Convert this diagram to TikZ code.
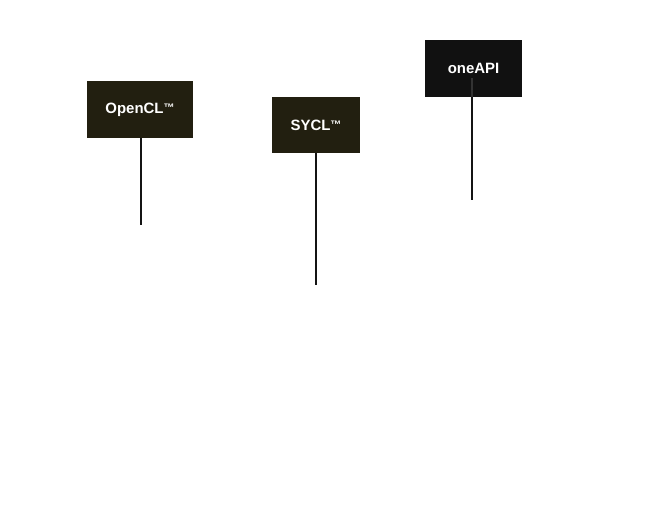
\documentclass[tikz,border=0pt]{standalone}
\usepackage{fontspec}
\setmainfont{Liberation Sans}
\definecolor{olivebox}{HTML}{221F10}
\definecolor{blackbox}{HTML}{111111}
\definecolor{stem}{HTML}{141414}
\begin{document}
\begin{tikzpicture}[x=1bp,y=-1bp,
  label box/.style={rectangle, inner sep=0pt, text=white,
    font=\fontsize{15}{17}\selectfont\bfseries},
  stem line/.style={draw=stem, line width=2bp}]
\useasboundingbox[fill=white] (0,0) rectangle (645,520);
\node[label box, fill=olivebox, minimum width=106bp, minimum height=57bp] (opencl) at (140,109.5) {OpenCL{\fontsize{11}{12}\selectfont\raisebox{2bp}{™}}};
\node[label box, fill=olivebox, minimum width=88bp, minimum height=56bp] (sycl) at (316,125) {SYCL{\fontsize{11}{12}\selectfont\raisebox{2bp}{™}}};
\node[label box, fill=blackbox, minimum width=97bp, minimum height=57bp] (oneapi) at (473.5,68.5) {oneAPI};
\coordinate (openclend) at (141,225);
\coordinate (syclend) at (316,285);
\coordinate (oneapiend) at (472,200);
\coordinate (oneapistart) at (472,78);
\draw[stem line] (opencl.south -| openclend) -- (openclend);
\draw[stem line] (sycl.south) -- (syclend);
\draw[stem line, draw=black!80] (oneapistart) -- (oneapi.south -| oneapiend);
\draw[stem line] (oneapi.south -| oneapiend) -- (oneapiend);
\end{tikzpicture}
\end{document}
